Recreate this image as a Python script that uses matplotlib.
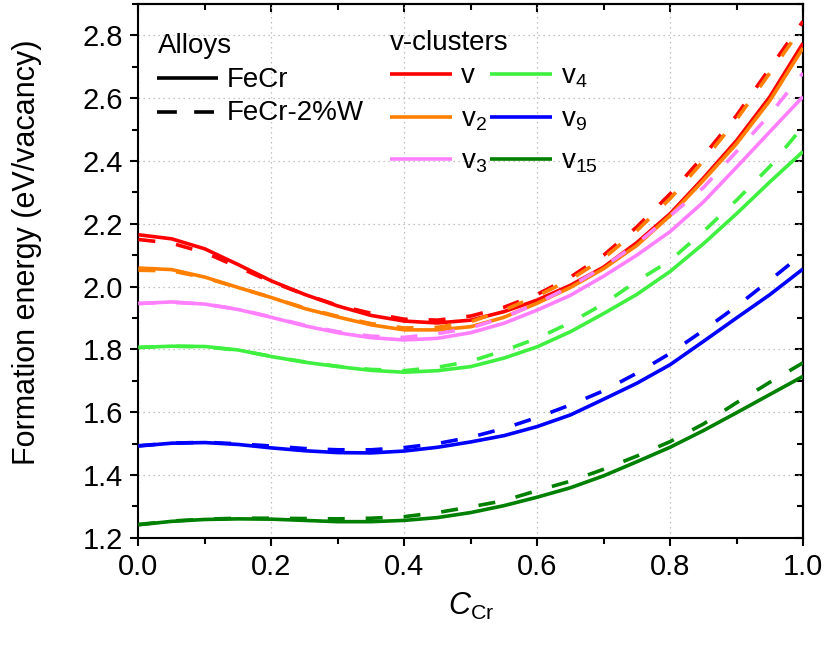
import matplotlib
matplotlib.use("Agg")
import matplotlib.pyplot as plt
from matplotlib.lines import Line2D
from matplotlib.ticker import MultipleLocator, FormatStrFormatter

plt.rcParams["font.family"] = ["Liberation Sans", "DejaVu Sans"]
plt.rcParams["mathtext.fontset"] = "custom"
plt.rcParams["mathtext.rm"] = "Liberation Sans"
plt.rcParams["mathtext.it"] = "Liberation Sans:italic"

# Cr concentration
c_cr = [0.00, 0.05, 0.10, 0.15, 0.20, 0.25, 0.30, 0.35, 0.40, 0.45, 0.50,
        0.55, 0.60, 0.65, 0.70, 0.75, 0.80, 0.85, 0.90, 0.95, 1.00]

# Formation energy per vacancy (eV), FeCr
v1_fecr = [2.165, 2.152, 2.120, 2.070, 2.018, 1.975, 1.938, 1.908, 1.890, 1.884, 1.893,
           1.920, 1.957, 2.004, 2.062, 2.140, 2.232, 2.345, 2.465, 2.604, 2.775]
v2_fecr = [2.059, 2.054, 2.030, 1.997, 1.965, 1.930, 1.903, 1.878, 1.862, 1.862, 1.872,
           1.902, 1.947, 1.997, 2.057, 2.131, 2.226, 2.338, 2.455, 2.592, 2.760]
v3_fecr = [1.946, 1.951, 1.944, 1.927, 1.902, 1.875, 1.853, 1.837, 1.830, 1.835, 1.853,
           1.883, 1.925, 1.972, 2.033, 2.100, 2.175, 2.269, 2.380, 2.493, 2.605]
v4_fecr = [1.806, 1.810, 1.809, 1.798, 1.777, 1.759, 1.745, 1.733, 1.727, 1.732, 1.745,
           1.772, 1.808, 1.856, 1.914, 1.975, 2.048, 2.136, 2.232, 2.333, 2.430]
v9_fecr = [1.492, 1.501, 1.503, 1.497, 1.486, 1.477, 1.471, 1.470, 1.476, 1.488, 1.505,
           1.525, 1.554, 1.591, 1.641, 1.692, 1.751, 1.825, 1.900, 1.974, 2.056]
v15_fecr = [1.241, 1.252, 1.258, 1.260, 1.259, 1.255, 1.251, 1.251, 1.255, 1.264, 1.280,
            1.302, 1.329, 1.359, 1.397, 1.442, 1.488, 1.541, 1.598, 1.656, 1.714]

# Formation energy per vacancy (eV), FeCr-2%W
v1_fecrw = [2.150, 2.138, 2.108, 2.062, 2.015, 1.975, 1.940, 1.915, 1.896, 1.893, 1.906,
            1.934, 1.975, 2.030, 2.100, 2.190, 2.295, 2.415, 2.545, 2.695, 2.845]
v2_fecrw = [2.052, 2.050, 2.028, 1.997, 1.965, 1.932, 1.905, 1.882, 1.868, 1.870, 1.888,
            1.925, 1.970, 2.022, 2.090, 2.178, 2.280, 2.400, 2.532, 2.680, 2.830]
v3_fecrw = [1.946, 1.950, 1.944, 1.928, 1.903, 1.877, 1.856, 1.842, 1.838, 1.850, 1.868,
            1.902, 1.947, 2.000, 2.063, 2.136, 2.225, 2.315, 2.430, 2.548, 2.680]
v4_fecrw = [1.806, 1.810, 1.808, 1.797, 1.778, 1.760, 1.746, 1.736, 1.732, 1.743, 1.762,
            1.796, 1.835, 1.885, 1.945, 2.017, 2.083, 2.175, 2.275, 2.382, 2.510]
v9_fecrw = [1.493, 1.501, 1.504, 1.499, 1.492, 1.484, 1.480, 1.480, 1.487, 1.500, 1.520,
            1.548, 1.583, 1.623, 1.668, 1.724, 1.787, 1.860, 1.937, 2.020, 2.105]
v15_fecrw = [1.242, 1.253, 1.259, 1.262, 1.262, 1.261, 1.260, 1.262, 1.267, 1.280, 1.298,
             1.318, 1.350, 1.380, 1.418, 1.460, 1.506, 1.562, 1.630, 1.695, 1.757]

cluster_labels = ["v", "v$_2$", "v$_3$", "v$_4$", "v$_9$", "v$_{15}$"]
cluster_colors = ["#FF0000", "#FF8000", "#FF80FF", "#40F040", "#0000FF", "#008000"]
fecr_series = [v1_fecr, v2_fecr, v3_fecr, v4_fecr, v9_fecr, v15_fecr]
fecrw_series = [v1_fecrw, v2_fecrw, v3_fecrw, v4_fecrw, v9_fecrw, v15_fecrw]
alloy_labels = ["FeCr", "FeCr-2%W"]

LW = 2.6
DASH = (0, (4.7, 5.8))
FS = 20

fig = plt.figure(figsize=(8.24, 6.5), dpi=100)
ax = fig.add_axes([0.168, 0.1728, 0.8065, 0.821])

for yw, yc, col in zip(fecrw_series, fecr_series, cluster_colors):
    ax.plot(c_cr, yc, color=col, lw=LW, solid_capstyle="butt", zorder=3)
    ax.plot(c_cr, yw, color=col, lw=LW, linestyle=DASH, dash_capstyle="butt", zorder=3)

ax.set_xlim(0.0, 1.0)
ax.set_ylim(1.2, 2.9)
yticks = [1.2, 1.4, 1.6, 1.8, 2.0, 2.2, 2.4, 2.6, 2.8]
ax.xaxis.set_major_locator(MultipleLocator(0.2))
ax.xaxis.set_minor_locator(MultipleLocator(0.1))
ax.set_yticks(yticks)
ax.yaxis.set_minor_locator(MultipleLocator(0.1))
ax.xaxis.set_major_formatter(FormatStrFormatter("%.1f"))
ax.yaxis.set_major_formatter(FormatStrFormatter("%.1f"))

ax.grid(True, which="major", color="#B0B0B0", linestyle=(0, (1, 3)), linewidth=0.9, zorder=0)

for s in ax.spines.values():
    s.set_linewidth(1.5)
ax.tick_params(which="both", direction="out", width=1.5, labelsize=21, top=False, right=False)
ax.tick_params(which="major", length=6, pad=5)
ax.tick_params(which="minor", length=4)

# mirrored ticks pointing inwards on the top and right frame
secx = ax.secondary_xaxis("top")
secx.xaxis.set_major_locator(MultipleLocator(0.2))
secx.xaxis.set_minor_locator(MultipleLocator(0.1))
secx.tick_params(which="both", direction="in", width=1.5, labeltop=False)
secx.tick_params(which="major", length=6)
secx.tick_params(which="minor", length=4)
secx.spines["top"].set_linewidth(1.5)

secy = ax.secondary_yaxis("right")
secy.set_yticks(yticks)
secy.yaxis.set_minor_locator(MultipleLocator(0.1))
secy.tick_params(which="both", direction="in", width=1.5, labelright=False)
secy.tick_params(which="major", length=6)
secy.tick_params(which="minor", length=4)
secy.spines["right"].set_linewidth(1.5)

ax.set_xlabel(r"$C_{\mathrm{Cr}}$", fontsize=22, labelpad=7)
ax.set_ylabel("Formation energy (eV/vacancy)", fontsize=22)
ax.yaxis.set_label_coords(-0.145, 0.535)


def legend_entry(x0, x1, y_line, y_text, label, **line_kw):
    ax.add_line(Line2D([x0, x1], [y_line, y_line], transform=ax.transAxes,
                       clip_on=False, lw=LW, solid_capstyle="butt",
                       dash_capstyle="butt", zorder=5, **line_kw))
    ax.text(x1 + 0.0136, y_text, label, transform=ax.transAxes,
            fontsize=FS, ha="left", va="baseline", zorder=5)


# Alloy key: line style
ax.text(0.0293, 0.9082, "Alloys", transform=ax.transAxes, fontsize=FS,
        ha="left", va="baseline")
legend_entry(0.0278, 0.1196, 0.8608, 0.8450, alloy_labels[0], color="black")
legend_entry(0.0278, 0.1196, 0.7977, 0.7827, alloy_labels[1], color="black",
             linestyle=(0, (5.5, 4.8)))

# Cluster key: colour
ax.text(0.3785, 0.9138, "v-clusters", transform=ax.transAxes, fontsize=FS,
        ha="left", va="baseline")
row_line = [0.8688, 0.7888, 0.7101]
row_text = [0.8514, 0.7714, 0.6922]
col_x = [(0.3785, 0.4718), (0.5290, 0.6223)]
for i, (lab, col) in enumerate(zip(cluster_labels, cluster_colors)):
    c, r = divmod(i, 3)
    legend_entry(col_x[c][0], col_x[c][1], row_line[r], row_text[r], lab, color=col)

fig.savefig("out.png", dpi=100)
